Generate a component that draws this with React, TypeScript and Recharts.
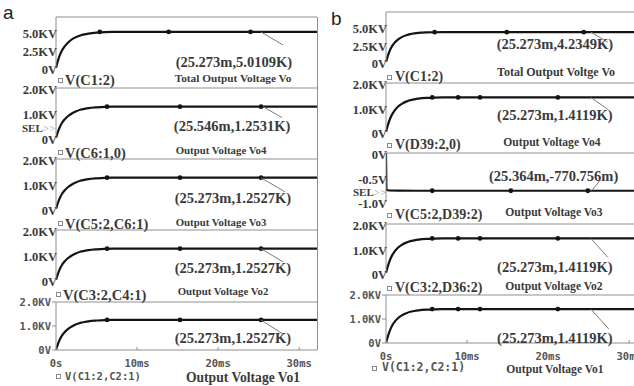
import React from 'react';
import { ComposedChart, Line, Scatter, XAxis, YAxis, ReferenceLine, ReferenceDot } from 'recharts';

// shared time base of the charging curves (ms)
const timeMs = [0, 0.25, 0.5, 0.75, 1, 1.5, 2, 2.5, 3, 3.5, 4, 5, 6, 7, 10, 15, 20, 25, 32.2];

// panel a
const voA = [0, 1.05, 1.85, 2.45, 2.9, 3.55, 4.0, 4.3, 4.52, 4.67, 4.78, 4.92, 4.99, 5.008, 5.0109, 5.0109, 5.0109, 5.0109, 5.0109];
const vo4A = [0, 0.26, 0.46, 0.61, 0.72, 0.88, 0.99, 1.07, 1.13, 1.165, 1.195, 1.228, 1.247, 1.252, 1.2531, 1.2531, 1.2531, 1.2531, 1.2531];
const vo3A = [0, 0.26, 0.46, 0.61, 0.72, 0.88, 0.99, 1.07, 1.13, 1.165, 1.195, 1.228, 1.247, 1.252, 1.2527, 1.2527, 1.2527, 1.2527, 1.2527];
const vo2A = [0, 0.26, 0.46, 0.61, 0.72, 0.88, 0.99, 1.07, 1.13, 1.165, 1.195, 1.228, 1.247, 1.252, 1.2527, 1.2527, 1.2527, 1.2527, 1.2527];
const vo1A = [0, 0.26, 0.46, 0.61, 0.72, 0.88, 0.99, 1.07, 1.13, 1.165, 1.195, 1.228, 1.247, 1.252, 1.2527, 1.2527, 1.2527, 1.2527, 1.2527];

// panel b
const voB = [0, 0.95, 1.7, 2.25, 2.65, 3.2, 3.57, 3.8, 3.96, 4.06, 4.13, 4.2, 4.225, 4.232, 4.2349, 4.2349, 4.2349, 4.2349, 4.2349];
const vo4B = [0, 0.3, 0.54, 0.72, 0.85, 1.04, 1.16, 1.24, 1.3, 1.335, 1.36, 1.39, 1.405, 1.41, 1.4119, 1.4119, 1.4119, 1.4119, 1.4119];
const vo3Time = [0, 0.05, 0.4, 1.5, 4, 10, 20, 32.2];
const vo3B = [0, -0.755, -0.765, -0.769, -0.7705, -0.7708, -0.7708, -0.7708];
const vo2B = [0, 0.3, 0.54, 0.72, 0.85, 1.04, 1.16, 1.24, 1.3, 1.335, 1.36, 1.39, 1.405, 1.41, 1.4119, 1.4119, 1.4119, 1.4119, 1.4119];
const vo1B = [0, 0.3, 0.54, 0.72, 0.85, 1.04, 1.16, 1.24, 1.3, 1.335, 1.36, 1.39, 1.405, 1.41, 1.4119, 1.4119, 1.4119, 1.4119, 1.4119];

// symbol positions on the traces (ms)
const marksA1 = [5.4, 13.9, 24.0];
const marksA = [6.3, 15.3, 25.3];
const marksB1 = [6.0, 14.9, 24.4];
const marksB = [5.7, 8.9, 11.6, 21.2];
const marksB3 = [5.7, 15.4, 24.9];

const xTicks = [0, 10, 20, 30];
const xTickText = ['0s', '10ms', '20ms', '30ms'];
const T_END = 32.2;

const kvTicks = [0, 2.5, 5];
const kvText = ['0V', '2.5KV', '5.0KV'];
const kv2Ticks = [0, 1, 2];
const kv2Text = ['0V', '1.0KV', '2.0KV'];
const negTicks = [-1, -0.5, 0];
const negText = ['-1.0V', '-0.5V', '0V'];

const namesA = ['V(C1:2)', 'V(C6:1,0)', 'V(C5:2,C6:1)', 'V(C3:2,C4:1)', 'V(C1:2,C2:1)'];
const titlesA = ['Total Output Voltage Vo', 'Output Voltage Vo4', 'Output Voltage Vo3', 'Output Voltage Vo2', 'Output Voltage Vo1'];
const namesB = ['V(C1:2)', 'V(D39:2,0)', 'V(C5:2,D39:2)', 'V(C3:2,D36:2)', 'V(C1:2,C2:1)'];
const titlesB = ['Total Output Voltge Vo', 'Output Voltage Vo4', 'Output Voltage Vo3', 'Output Voltage Vo2', 'Output Voltage Vo1'];

const GRID = '#8f8f8f';
const INK = '#141414';
const TXT = '#3a3a3a';
const SERIF = '"Liberation Serif", "Times New Roman", serif';
const MONO = '"DejaVu Sans Mono", "Liberation Mono", monospace';
const SANS = '"Liberation Sans", Arial, sans-serif';

type Plot = {
  top: number; h: number; domain: [number, number]; ticks: number[]; tickText: string[];
  t: number[]; v: number[]; marks: number[]; level: number;
  cursor: [number, number]; note: string; lead: [number, number]; noteAt: [number, number];
  mono?: boolean; step?: boolean;
};

const plotsA: Plot[] = [
  { top: 17, h: 51, domain: [0, 7.08], ticks: kvTicks, tickText: kvText, t: timeMs, v: voA, marks: marksA1, level: 5.0109,
    cursor: [25.273, 5.0109], note: '(25.273m,5.0109K)', lead: [22, 13], noteAt: [-27, 30] },
  { top: 88, h: 50, domain: [0, 2], ticks: kv2Ticks, tickText: kv2Text, t: timeMs, v: vo4A, marks: marksA, level: 1.2531,
    cursor: [25.546, 1.2531], note: '(25.546m,1.2531K)', lead: [19, 11], noteAt: [-31, 19] },
  { top: 159, h: 50, domain: [0, 2], ticks: kv2Ticks, tickText: kv2Text, t: timeMs, v: vo3A, marks: marksA, level: 1.2527,
    cursor: [25.273, 1.2527], note: '(25.273m,1.2527K)', lead: [24, 14], noteAt: [-28, 20] },
  { top: 230, h: 50, domain: [0, 2], ticks: kv2Ticks, tickText: kv2Text, t: timeMs, v: vo2A, marks: marksA, level: 1.2527,
    cursor: [25.273, 1.2527], note: '(25.273m,1.2527K)', lead: [22, 13], noteAt: [-28, 19] },
  { top: 302, h: 48, domain: [0, 2], ticks: kv2Ticks, tickText: kv2Text, t: timeMs, v: vo1A, marks: marksA, level: 1.2527,
    cursor: [25.273, 1.2527], note: '(25.273m,1.2527K)', lead: [22, 14], noteAt: [-28, 18], mono: true },
];

const plotsB: Plot[] = [
  { top: 12, h: 50, domain: [0, 7.1], ticks: kvTicks, tickText: kvText, t: timeMs, v: voB, marks: marksB1, level: 4.2349,
    cursor: [25.273, 4.2349], note: '(25.273m,4.2349K)', lead: [17, 10], noteAt: [-36, 12] },
  { top: 83, h: 49, domain: [0, 2], ticks: kv2Ticks, tickText: kv2Text, t: timeMs, v: vo4B, marks: marksB, level: 1.4119,
    cursor: [25.273, 1.4119], note: '(25.273m,1.4119K)', lead: [17, 12], noteAt: [-36, 18] },
  { top: 153, h: 49, domain: [-1, 0], ticks: negTicks, tickText: negText, t: vo3Time, v: vo3B, marks: marksB3, level: -0.770756,
    cursor: [25.364, -0.770756], note: '(25.364m,-770.756m)', lead: [9, -11], noteAt: [-38, -15], step: true },
  { top: 224, h: 49, domain: [0, 2], ticks: kv2Ticks, tickText: kv2Text, t: timeMs, v: vo2B, marks: marksB, level: 1.4119,
    cursor: [25.273, 1.4119], note: '(25.273m,1.4119K)', lead: [17, 19], noteAt: [-36, 29] },
  { top: 295, h: 48, domain: [0, 2], ticks: kv2Ticks, tickText: kv2Text, t: timeMs, v: vo1B, marks: marksB, level: 1.4119,
    cursor: [25.273, 1.4119], note: '(25.273m,1.4119K)', lead: [18, 20], noteAt: [-36, 29], mono: true },
];

// legend rows: [markX, y, nameX, nameY, titleCx, titleY, titleSize]
const rowsA = [
  [60, 80, 65, 80, 233, 79, 11.3],
  [60, 152, 65, 153, 221, 150, 10.8],
  [60, 223, 65, 224, 221, 222, 10.8],
  [58, 294, 63, 295, 223, 291, 10.8],
  [58, 376, 65, 376, 243, 378, 13.6],
];
const rowsB = [
  [389, 77, 395, 77, 556, 72, 12],
  [389, 145, 395, 145, 552, 143, 11.6],
  [389, 215, 395, 215, 554, 213, 11.6],
  [389, 288, 395, 288, 554, 287, 11.6],
  [374, 368, 382, 368, 555, 370, 11.6],
];

function Trace({ left, axisW, p, last }: { left: number; axisW: number; p: Plot; last: boolean }) {
  const chartW = axisW + 261;
  const xh = last ? 22 : 0;
  const data = p.t.map((t, i) => ({ t, v: p.v[i] }));
  const dots = p.marks.map((t) => ({ t, v: p.level }));

  const yTick = (props: any) => {
    const i = p.ticks.indexOf(props.payload.value);
    const y = props.y;
    if (p.mono) {
      return (
        <g>
          <line x1={axisW - 4} x2={axisW} y1={y} y2={y} stroke={GRID} />
          <text x={axisW - 5} y={y} dy="0.35em" textAnchor="end" fontFamily={MONO} fontWeight="bold" fontSize={10.5} fill="#555">{p.tickText[i]}</text>
        </g>
      );
    }
    return (
      <text x={axisW + 1} y={y + 2} dy="0.35em" textAnchor="end" fontFamily={SERIF} fontWeight="bold" fontSize={12.5} fill={TXT}>{p.tickText[i]}</text>
    );
  };

  const xTick = (props: any) => {
    const i = xTicks.indexOf(props.payload.value);
    return (
      <g>
        <line x1={props.x} x2={props.x} y1={p.h - 3} y2={p.h} stroke={GRID} />
        <text x={props.x} y={p.h + 13} dy="0.35em" textAnchor="middle" fontFamily={MONO} fontWeight="bold" fontSize={10.5} fill="#555">{xTickText[i]}</text>
      </g>
    );
  };

  const note = (props: any) => {
    const { cx, cy } = props;
    return (
      <g>
        <line x1={cx} y1={cy} x2={cx + p.lead[0]} y2={cy + p.lead[1]} stroke="#7a7a7a" strokeWidth={1} />
        <text x={cx + p.noteAt[0]} y={cy + p.noteAt[1]} dy="0.35em" textAnchor="middle" fontFamily={SERIF} fontWeight="bold" fontSize={14.5} fill={TXT}>{p.note}</text>
      </g>
    );
  };

  return (
    <div style={{ position: 'absolute', left, top: p.top, width: chartW, height: p.h + xh }}>
      <ComposedChart width={chartW} height={p.h + xh} margin={{ top: 0, right: 0, bottom: 0, left: 0 }}>
        <XAxis type="number" dataKey="t" domain={[0, T_END]} ticks={xTicks} allowDataOverflow height={xh}
          stroke={GRID} tickLine={false} tick={last ? xTick : false} interval={0} />
        <YAxis type="number" dataKey="v" domain={p.domain} ticks={p.ticks} allowDataOverflow width={axisW}
          stroke={GRID} tickLine={false} tick={yTick} interval={0} />
        <ReferenceLine y={p.domain[1]} stroke={GRID} />
        <Line data={data} dataKey="v" type={p.step ? 'linear' : 'monotone'} stroke={INK} strokeWidth={2.2}
          dot={false} isAnimationActive={false} />
        <Scatter data={dots} dataKey="v" fill={INK} isAnimationActive={false}
          shape={(s: any) => <circle cx={s.cx} cy={s.cy} r={2.4} fill={INK} />} />
        <ReferenceDot x={p.cursor[0]} y={p.cursor[1]} shape={note} />
      </ComposedChart>
    </div>
  );
}

function Legend({ rows, names, titles }: { rows: number[][]; names: string[]; titles: string[] }) {
  return (
    <>
      {rows.map((r, i) => {
        const mono = i === rows.length - 1;
        return (
          <React.Fragment key={i}>
            <div style={{ position: 'absolute', left: r[0] - 2, top: r[1] - 2, width: 3, height: 3, border: '1px solid #8a8a8a' }} />
            <span style={{ position: 'absolute', left: r[2], top: r[3], transform: 'translateY(-50%)', lineHeight: 1, whiteSpace: 'nowrap',
              fontFamily: mono ? MONO : SERIF, fontWeight: 'bold', fontSize: mono ? (r[0] > 300 ? 11.5 : 10.5) : (r[0] > 300 ? 14 : 14.5),
              color: mono ? '#555' : TXT }}>{names[i]}</span>
            <span style={{ position: 'absolute', left: r[4], top: r[5], transform: 'translate(-50%,-50%)', lineHeight: 1, whiteSpace: 'nowrap',
              fontFamily: SERIF, fontWeight: 'bold', fontSize: r[6], color: TXT }}>{titles[i]}</span>
          </React.Fragment>
        );
      })}
    </>
  );
}

function Sel({ x, y }: { x: number; y: number }) {
  return (
    <span style={{ position: 'absolute', left: x, top: y, transform: 'translateY(-50%)', lineHeight: 0.8, whiteSpace: 'nowrap',
      fontFamily: SERIF, fontWeight: 'bold', fontSize: 11, color: TXT }}>
      SEL<span style={{ color: '#9a9a9a', fontWeight: 'normal' }}>&gt;&gt;</span>
    </span>
  );
}

export default function App() {
  return (
    <div style={{ position: 'fixed', left: 0, top: 0, width: 634, height: 386, overflow: 'hidden', background: '#fff' }}>
      <style>{'.recharts-surface{overflow:visible}'}</style>
      <div style={{ position: 'absolute', left: 3, top: 3, fontFamily: SANS, fontSize: 19, lineHeight: 1, color: '#222' }}>a</div>
      <div style={{ position: 'absolute', left: 331, top: 9, fontFamily: SANS, fontSize: 19, lineHeight: 1, color: '#222' }}>b</div>

      {plotsA.map((p, i) => (
        <Trace key={'a' + i} left={0} axisW={56} p={p} last={i === plotsA.length - 1} />
      ))}
      <div style={{ position: 'absolute', left: 317, top: 17, width: 1, height: 333, background: GRID }} />
      <Legend rows={rowsA} names={namesA} titles={titlesA} />
      <Sel x={22} y={128} />

      {plotsB.map((p, i) => (
        <Trace key={'b' + i} left={320} axisW={66} p={p} last={i === plotsB.length - 1} />
      ))}
      <Legend rows={rowsB} names={namesB} titles={titlesB} />
      <Sel x={353} y={192} />
    </div>
  );
}
